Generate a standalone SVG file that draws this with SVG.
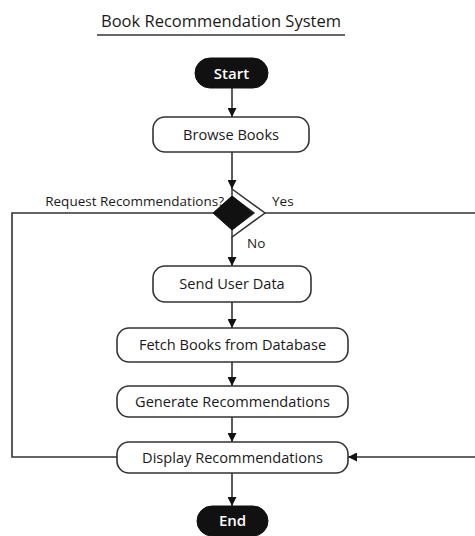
<svg xmlns="http://www.w3.org/2000/svg" width="475" height="536" viewBox="0 0 475 536">
<style>
  text { font-family: "Open Sans", "Noto Sans", "DejaVu Sans", sans-serif; fill: #1a1a1a; font-weight: 500; }
  .box { fill: #fff; stroke: #333; stroke-width: 1.6; }
  .term { fill: #111; stroke: #111; }
  .lbl { font-size: 14.6px; text-anchor: middle; }
  .tlbl { font-size: 15px; text-anchor: middle; fill: #fff; font-weight: 600; }
  .edge { fill: none; stroke: #333; stroke-width: 1.6; }
  .elbl { font-size: 13.5px; }
</style>
<defs>
  <marker id="ah" viewBox="0 0 10 10" refX="10" refY="5" markerWidth="9" markerHeight="9" markerUnits="userSpaceOnUse" orient="auto">
    <path d="M0,0 L10,5 L0,10 z" fill="#111"/>
  </marker>
</defs>
<rect width="475" height="536" fill="#fff"/>
<g id="title">
  <text x="221" y="27" font-size="16.5" text-anchor="middle">Book Recommendation System</text>
  <line x1="97" y1="35" x2="345" y2="35" stroke="#333" stroke-width="1.6"/>
</g>
<g id="connectors">
  <line class="edge" x1="232" y1="88" x2="232" y2="117" marker-end="url(#ah)"/>
  <line class="edge" x1="232" y1="152" x2="232" y2="189" marker-end="url(#ah)"/>
  <line class="edge" x1="232" y1="237" x2="232" y2="266" marker-end="url(#ah)"/>
  <line class="edge" x1="232" y1="302" x2="232" y2="328" marker-end="url(#ah)"/>
  <line class="edge" x1="232" y1="362" x2="232" y2="386" marker-end="url(#ah)"/>
  <line class="edge" x1="232" y1="417" x2="232" y2="442" marker-end="url(#ah)"/>
  <line class="edge" x1="232" y1="473" x2="232" y2="506" marker-end="url(#ah)"/>
  <polyline class="edge" points="213,213 12,213 12,457 117,457"/>
  <polyline class="edge" points="265,213 480,213 480,457 348,457" marker-end="url(#ah)"/>
  <text class="elbl" x="224" y="206" text-anchor="end">Request Recommendations?</text>
  <text class="elbl" x="272" y="206">Yes</text>
  <text class="elbl" x="247" y="248">No</text>
</g>
<g id="start">
  <rect class="term" x="195" y="58" width="73" height="30" rx="15"/>
  <text class="tlbl" x="231.5" y="78.5">Start</text>
</g>
<g id="browse">
  <rect class="box" x="153" y="117" width="156" height="35" rx="12"/>
  <text class="lbl" x="231" y="139.5">Browse Books</text>
</g>
<g id="decision">
  <polygon points="232,189 265,213 232,237 232,229.5 254,213 232,196.5" fill="#fff" stroke="#333" stroke-width="1.5" stroke-linejoin="miter"/>
  <polygon points="232,196 253,213 232,230 213,213" fill="#111" stroke="#111" stroke-width="1"/>
</g>
<g id="send">
  <rect class="box" x="153" y="266" width="158" height="36" rx="12"/>
  <text class="lbl" x="232" y="289">Send User Data</text>
</g>
<g id="fetch">
  <rect class="box" x="117" y="328" width="231" height="34" rx="12"/>
  <text class="lbl" x="232.5" y="350">Fetch Books from Database</text>
</g>
<g id="generate">
  <rect class="box" x="117" y="386" width="231" height="31" rx="12"/>
  <text class="lbl" x="232.5" y="406.5">Generate Recommendations</text>
</g>
<g id="display">
  <rect class="box" x="117" y="442" width="231" height="31" rx="12"/>
  <text class="lbl" x="232.5" y="462.5">Display Recommendations</text>
</g>
<g id="end">
  <rect class="term" x="197" y="506" width="71" height="30" rx="15"/>
  <text class="tlbl" x="232.5" y="526">End</text>
</g>
</svg>
